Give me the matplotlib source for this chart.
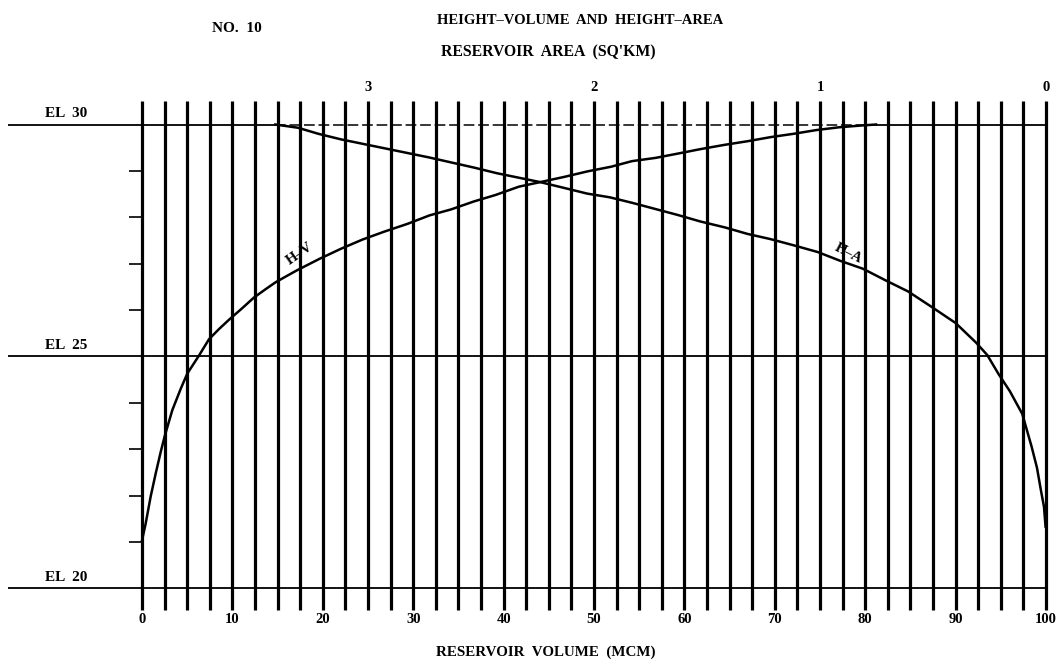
import numpy as np
import matplotlib
matplotlib.use("Agg")
import matplotlib.pyplot as plt

# ---------------- data ----------------
# Height-Volume curve (volume in MCM, elevation in m)
hv_volume = [0, 0.41, 0.96, 1.52, 2.07, 2.51, 3.35, 4.28, 5.01, 6.31, 7.41, 8.52,
             9.62, 11.09, 12.39, 13.68, 14.79, 16.07, 17.18, 19.6, 22.0, 24.4,
             26.8, 29.4, 31.8, 34.2, 36.7, 39.1, 41.7, 44.1, 46.7, 49.3, 51.9,
             54.2, 56.8, 59.2, 61.8, 64.4, 67.0, 69.6, 72.1, 74.6, 77.1, 79.7, 81.2]
hv_elev = [21.03, 21.40, 21.98, 22.48, 22.94, 23.28, 23.84, 24.30, 24.63, 25.02,
           25.37, 25.59, 25.79, 26.04, 26.27, 26.45, 26.60, 26.74, 26.86,
           27.10, 27.32, 27.52, 27.69, 27.86, 28.04, 28.17, 28.34, 28.48, 28.66,
           28.76, 28.87, 28.99, 29.09, 29.21, 29.28, 29.37, 29.47, 29.56, 29.64,
           29.73, 29.80, 29.88, 29.94, 29.98, 30.00]

# Height-Area curve (area in sq km, elevation in m)
ha_area = [3.41, 3.31, 3.22, 3.12, 3.03, 2.93, 2.83, 2.73, 2.63, 2.53, 2.43, 2.33,
           2.24, 2.13, 2.03, 1.93, 1.83, 1.73, 1.63, 1.53, 1.42, 1.32, 1.22, 1.12,
           1.01, 0.91, 0.81, 0.71, 0.61, 0.51, 0.40, 0.31, 0.26, 0.21, 0.16, 0.105,
           0.064, 0.040, 0.022, 0.009, 0.002]
ha_elev = [30.00, 29.93, 29.80, 29.68, 29.59, 29.49, 29.39, 29.29, 29.18, 29.07,
           28.95, 28.85, 28.76, 28.63, 28.51, 28.43, 28.31, 28.18, 28.05, 27.91,
           27.78, 27.64, 27.53, 27.40, 27.25, 27.06, 26.89, 26.64, 26.40, 26.08,
           25.72, 25.30, 25.03, 24.62, 24.25, 23.76, 23.06, 22.60, 22.10, 21.76, 21.33]

volume_ticks = [0, 10, 20, 30, 40, 50, 60, 70, 80, 90, 100]
area_ticks = [0, 1, 2, 3]
el_levels = [20, 25, 30]
el_labels = ["EL  20", "EL  25", "EL  30"]
minor_elev = [21, 22, 23, 24, 26, 27, 28, 29]
grid_step = 2.5          # MCM between vertical rulings
area_scale = 25.0        # MCM of the volume scale per sq km of the area scale


def area_to_vol(a):
    return 100.0 - area_scale * np.asarray(a, dtype=float)


# ---------------- figure ----------------
W, H = 1061, 661
fig = plt.figure(figsize=(W / 100, H / 100), dpi=100)
ax = fig.add_axes([0, 0, 1, 1])
x0px, xs = 142.0, 9.04
y20px, ys = 588.3, 46.38
ax.set_xlim(-x0px / xs, (W - x0px) / xs)
ax.set_ylim(20 - (H - y20px) / ys, 20 + y20px / ys)
for s in ax.spines.values():
    s.set_visible(False)
ax.set_xticks([])
ax.set_yticks([])

font = dict(family="Liberation Serif", weight="bold", color="black")

vmin, vmax = min(volume_ticks), max(volume_ticks)
top, bot = max(el_levels) + 0.5, min(el_levels) - 0.47

# vertical rulings
ax.vlines(np.arange(vmin, vmax + 0.01, grid_step), bot, top, colors="black", lw=2.3)

# elevation lines
left_end = vmin - 14.8
for lev in el_levels[:-1]:
    ax.hlines(lev, left_end, vmax, colors="black", lw=1.3)
lev30 = el_levels[-1]
ha_top_vol = float(area_to_vol(ha_area[0]))
ax.hlines(lev30, left_end, ha_top_vol, colors="black", lw=1.3)
ax.plot([ha_top_vol, hv_volume[-1]], [lev30, lev30], color="black", lw=1.1,
        linestyle=(0, (7, 2.5)))
ax.hlines(lev30, hv_volume[-1], vmax, colors="black", lw=1.3)

# small ticks on left edge
ax.hlines(minor_elev, vmin - 1.4, vmin, colors="black", lw=1.2)

# curves
ax.plot(hv_volume, hv_elev, color="black", lw=1.8, solid_joinstyle="round")
ax.plot(area_to_vol(ha_area), ha_elev, color="black", lw=1.8, solid_joinstyle="round")

# labels
for lev, lab in zip(el_levels, el_labels):
    ax.text(-8.4, lev + 0.1, lab, ha="center", va="bottom", fontsize=11, **font)

for v in volume_ticks:
    ax.text(v, 19.33, str(v), ha="center", va="center", fontsize=10.5, **font)
for a in area_ticks:
    ax.text(float(area_to_vol(a)), 30.8, str(a), ha="center", va="center",
            fontsize=10.5, **font)

ax.text(17.5, 27.22, "H–V", rotation=35, ha="center", va="center", fontsize=10.5, **font)
ax.text(78.1, 27.22, "H–A", rotation=-27, ha="center", va="center", fontsize=10.5, **font)

fig.text(580 / W, 1 - 20 / H, "HEIGHT–VOLUME  AND  HEIGHT–AREA", ha="center",
         va="center", fontsize=10.5, **font)
fig.text(237 / W, 1 - 28 / H, "NO.  10", ha="center", va="center", fontsize=11, **font)
fig.text(548 / W, 1 - 52 / H, "RESERVOIR  AREA  (SQ'KM)", ha="center", va="center",
         fontsize=11.3, **font)
fig.text(546 / W, 1 - 652 / H, "RESERVOIR  VOLUME  (MCM)", ha="center", va="center",
         fontsize=10.8, **font)

fig.savefig("out.png", dpi=100, facecolor="white")
